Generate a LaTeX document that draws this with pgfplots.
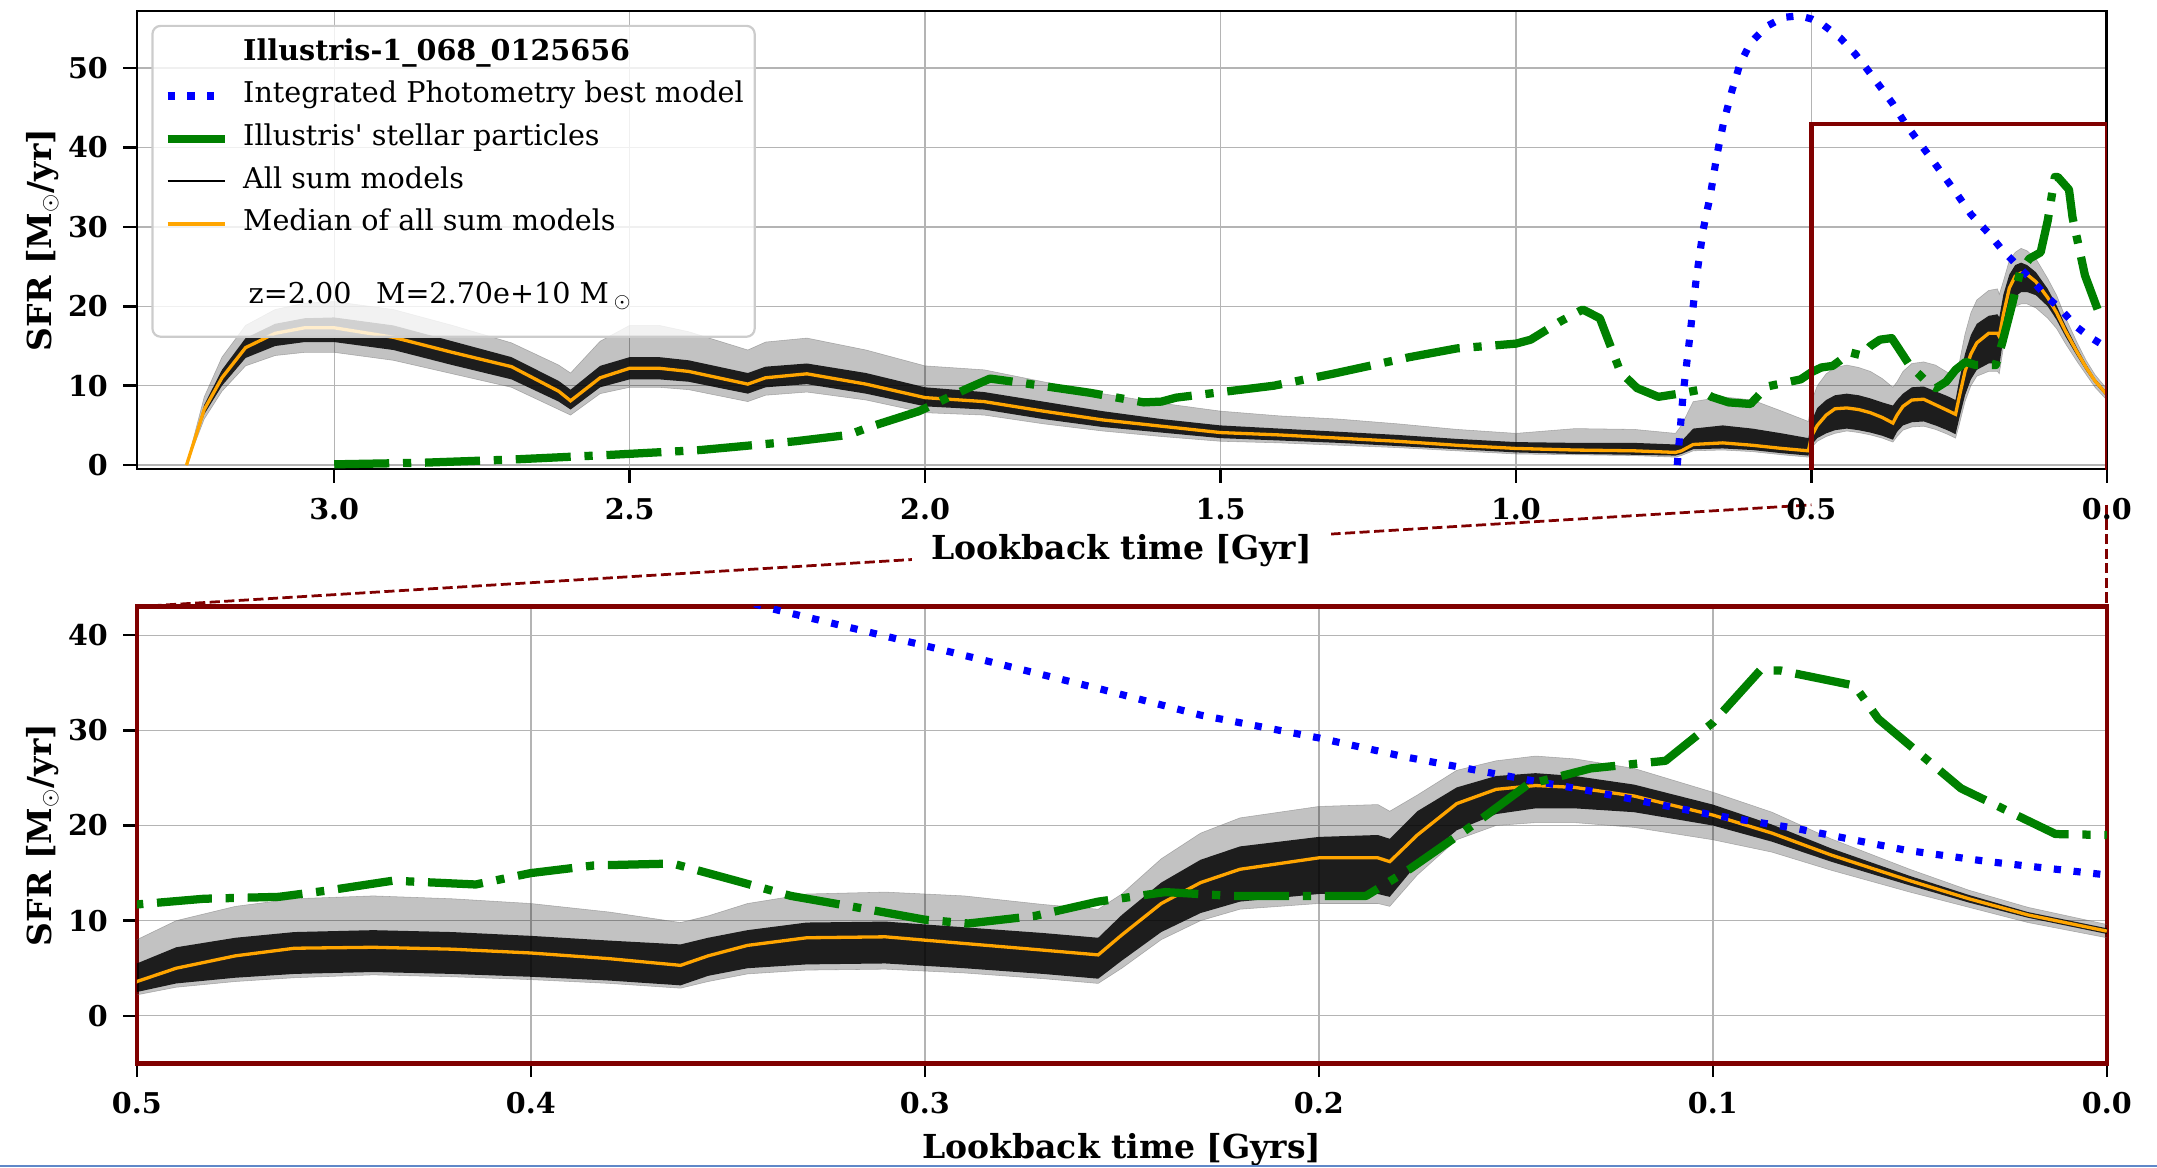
\documentclass[border=0pt]{standalone}
\usepackage{fontspec}
\setmainfont{DejaVu Serif}
\newfontfamily\rawserif{DejaVu Serif}[Ligatures=TeXOff]
\usepackage{pgfplots}
\pgfplotsset{compat=1.18}
\usepackage{pgfplotstable}
\usepgfplotslibrary{fillbetween}
\definecolor{maroonc}{RGB}{128,0,0}
\definecolor{mplgreen}{RGB}{0,128,0}
\definecolor{mplblue}{RGB}{0,0,255}
\definecolor{mplorange}{RGB}{255,165,0}
\definecolor{gridc}{RGB}{180,180,180}
\definecolor{legframe}{RGB}{204,204,204}
\definecolor{edgeblue}{RGB}{95,135,200}

\pgfplotstableread{
x      med   clo   chi   olo   ohi
3.25   0.0   0.0   0.0   0.0   0.0
3.22   7.0   6.4   7.6   5.8   8.6
3.19   11.0  10.0  12.0  9.3   13.6
3.15   14.8  13.5  16.0  12.5  17.6
3.10   16.6  15.0  17.8  13.8  19.6
3.05   17.3  15.5  18.5  14.2  20.4
3.00   17.3  15.5  18.6  14.2  20.6
2.90   16.1  14.5  17.6  13.2  19.6
2.80   14.2  12.6  15.6  11.5  17.6
2.70   12.4  10.8  13.6  9.8   15.4
2.62   9.3   8.0   10.6  7.0   12.6
2.60   8.1   7.0   9.5   6.3   11.6
2.55   11.0  9.8   12.5  9.0   15.6
2.50   12.2  10.8  13.6  9.8   17.6
2.45   12.2  10.8  13.6  9.8   17.6
2.40   11.8  10.5  13.2  9.5   16.8
2.30   10.2  9.0   11.6  8.0   14.5
2.27   11.0  9.8   12.4  8.8   15.5
2.20   11.5  10.2  12.8  9.2   16.0
2.10   10.2  9.0   11.6  8.2   14.5
2.00   8.5   7.4   9.8   6.6   12.5
1.90   8.0   7.0   9.2   6.3   12.0
1.80   6.8   5.8   8.0   5.2   10.5
1.70   5.7   4.8   6.8   4.3   9.0
1.60   4.9   4.1   5.8   3.6   7.8
1.50   4.1   3.4   5.0   3.0   6.8
1.40   3.8   3.1   4.6   2.8   6.2
1.30   3.4   2.8   4.2   2.5   5.8
1.20   3.0   2.4   3.8   2.2   5.2
1.10   2.5   2.0   3.3   1.8   4.5
1.00   2.1   1.6   2.9   1.4   4.0
0.90   1.9   1.4   2.8   1.3   4.6
0.80   1.8   1.3   2.8   1.2   4.5
0.73   1.6   1.2   2.6   1.0   4.0
0.72   1.8   1.4   3.0   1.2   5.0
0.70   2.6   2.0   4.6   1.8   8.0
0.65   2.8   2.1   5.0   1.9   8.6
0.60   2.5   1.9   4.6   1.7   8.2
0.55   2.1   1.5   4.0   1.3   6.8
0.505  1.8   1.2   3.4   1.0   5.5
0.50   3.6   2.5   5.5   2.2   8.0
0.49   5.0   3.4   7.2   3.0   10.0
0.475  6.3   4.0   8.2   3.6   11.5
0.46   7.1   4.4   8.8   4.0   12.3
0.44   7.2   4.6   9.0   4.3   12.6
0.42   7.0   4.4   8.8   4.1   12.3
0.40   6.6   4.1   8.4   3.8   11.8
0.38   6.0   3.7   7.9   3.4   10.9
0.362  5.3   3.2   7.5   2.9   9.8
0.355  6.3   4.2   8.2   3.6   10.5
0.345  7.4   5.0   9.0   4.4   11.8
0.33   8.2   5.4   9.8   4.8   12.8
0.31   8.3   5.5   9.9   4.9   13.0
0.29   7.6   5.0   9.3   4.5   12.6
0.27   6.9   4.4   8.7   3.9   11.7
0.256  6.4   3.9   8.2   3.4   11.2
0.25   8.5   5.8   10.6  5.0   12.8
0.24   11.8  8.8   14.0  8.0   16.5
0.23   14.0  10.8  16.4  10.0  19.2
0.22   15.4  12.0  17.8  11.2  20.8
0.20   16.6  12.8  18.8  11.8  22.0
0.185  16.6  12.8  19.0  11.8  22.2
0.182  16.2  12.5  18.6  11.5  21.5
0.175  19.0  16.0  21.5  14.8  23.2
0.165  22.3  19.5  24.0  18.5  25.8
0.155  23.8  21.2  25.2  20.0  26.8
0.145  24.2  21.8  25.5  20.3  27.3
0.135  24.0  21.8  25.2  20.3  27.0
0.12   23.1  21.4  24.3  19.8  26.0
0.10   21.1  20.0  22.2  18.5  23.5
0.085  19.2  18.3  20.1  17.2  21.4
0.07   16.9  16.2  17.6  15.3  18.6
0.05   14.2  13.7  14.7  13.0  15.4
0.035  12.3  11.9  12.7  11.4  13.2
0.02   10.6  10.3  10.9  9.8   11.4
0.00   8.9   8.6   9.2   8.2   9.6
}\bund

\pgfplotstableread{
x     y
0.727 0.0
0.717 9.0
0.706 16.0
0.695 23.4
0.683 29.7
0.671 34.0
0.660 39.0
0.649 43.0
0.635 47.0
0.621 50.5
0.603 53.2
0.575 55.3
0.547 56.4
0.520 56.6
0.500 56.2
0.479 55.4
0.451 53.8
0.426 51.8
0.405 49.8
0.384 47.7
0.363 45.6
0.339 42.8
0.300 38.9
0.256 34.4
0.230 31.6
0.200 29.2
0.178 27.2
0.147 24.8
0.132 23.7
0.100 21.1
0.079 19.7
0.051 17.4
0.030 16.2
0.000 14.8
}\blue

\pgfplotstableread{
x     y
3.00  0.1
2.85  0.3
2.70  0.7
2.53  1.3
2.38  1.9
2.22  3.0
2.13  3.8
2.09  4.9
2.01  6.8
1.93  9.6
1.89  10.9
1.84  10.4
1.72  9.1
1.63  7.9
1.60  8.0
1.575 8.5
1.41  10.0
1.31  11.5
1.18  13.6
1.10  14.7
1.00  15.3
0.975 15.8
0.925 18.1
0.887 19.6
0.858 18.5
0.823 11.7
0.795 9.7
0.759 8.6
0.724 9.0
0.688 9.5
0.669 8.6
0.640 7.9
0.603 7.7
0.575 9.9
0.518 10.8
0.500 11.7
0.483 12.3
0.464 12.5
0.451 13.2
0.435 14.2
0.414 13.8
0.400 15.0
0.384 15.8
0.364 16.0
0.348 14.2
0.334 12.6
0.316 11.3
0.300 10.1
0.289 9.7
0.272 10.5
0.256 12.0
0.239 13.0
0.222 12.6
0.188 12.6
0.177 15.4
0.160 20.3
0.147 24.3
0.131 26.0
0.112 26.8
0.100 30.8
0.088 36.3
0.083 36.3
0.064 34.7
0.058 31.2
0.037 23.9
0.013 19.1
0.000 19.0
}\green

\pgfplotsset{
  myax/.style={
    scale only axis, width=716pt,
    x dir=reverse, xmin=0,
    tick align=outside, tick pos=left,
    major tick length=5pt,
    tick style={black, line width=0.9pt},
    grid=major, grid style={gridc, line width=0.5pt},
    tick label style={font=\fontsize{10.4}{12}\selectfont\bfseries},
    label style={font=\fontsize{12}{14}\selectfont\bfseries},
    ylabel style={at={(axis description cs:-0.061,0.5)}, anchor=north},
    xlabel style={at={(axis description cs:0.5,0)}, anchor=base, yshift=-33pt},
    xticklabel style={yshift=-2pt},
    yticklabel style={xshift=-2pt},
  },
}

\begin{document}
\begin{tikzpicture}
% zoom connectors (drawn first so the axis label covers them)
\draw[maroonc, line width=1pt, dash pattern=on 3.7pt off 1.6pt] (49.75pt,-220.5pt) -- (658.4pt,-183.5pt);
\draw[maroonc, line width=1pt, dash pattern=on 3.7pt off 1.6pt] (765.75pt,-183.5pt) -- (765.75pt,-220.5pt);

\begin{axis}[myax,
  at={(49.75pt,-4pt)}, anchor=north west, height=166.5pt,
  xmax=3.334, ymin=-0.5, ymax=57.2,
  xtick={0,0.5,1,1.5,2,2.5,3},
  xticklabels={0.0,0.5,1.0,1.5,2.0,2.5,3.0},
  ytick={0,10,20,30,40,50},
  yticklabels={0,10,20,30,40,50},
  xlabel={Lookback time [Gyr]},
  ylabel={SFR [M$_{\odot}$/yr]},
  xlabel style={fill=white, inner xsep=7pt, inner ysep=2pt},
  axis line style={black, line width=1pt},
  legend cell align=left,
  legend image code/.code={\draw[#1] (0pt,0pt) -- (21pt,0pt);},
  legend style={
    at={(axis description cs:0,1)}, anchor=north west, xshift=5.25pt, yshift=-5pt,
    draw=legframe, line width=0.8pt, rounded corners=3pt,
    fill=white, fill opacity=0.8, text opacity=1,
    inner xsep=4pt, inner ysep=5pt, row sep=5.5pt,
    font=\fontsize{10.4}{12}\selectfont,
    nodes={inner sep=0pt, text height=7.5pt, text depth=2.5pt},
    /tikz/every odd column/.append style={column sep=5pt},
  },
]
\addlegendimage{empty legend}
\addlegendentry{\textbf{Illustris-1\_068\_0125656}}
\addlegendimage{mplblue, line width=2.6pt, dash pattern=on 2.6pt off 4.6pt}
\addlegendentry{Integrated Photometry best model}
\addlegendimage{mplgreen, line width=3pt}
\addlegendentry{Illustris{\rawserif'} stellar particles}
\addlegendimage{black, line width=0.8pt}
\addlegendentry{All sum models}
\addlegendimage{mplorange, line width=1.2pt}
\addlegendentry{Median of all sum models}
\addlegendimage{empty legend}
\addlegendentry{}
\addlegendimage{empty legend}
\addlegendentry{\hspace{2pt}\raisebox{4.5pt}{z=2.00\hspace{9pt}M=2.70e+10 M\,$_{\odot}$}}

\addplot[name path=ohiT, black!55, line width=0.2pt, opacity=0.5, forget plot] table[x=x,y=ohi]{\bund};
\addplot[name path=oloT, black!55, line width=0.2pt, opacity=0.5, forget plot] table[x=x,y=olo]{\bund};
\addplot[fill=black, fill opacity=0.24, draw=none, forget plot] fill between[of=ohiT and oloT];
\addplot[name path=chiT, draw=none, forget plot] table[x=x,y=chi]{\bund};
\addplot[name path=cloT, draw=none, forget plot] table[x=x,y=clo]{\bund};
\addplot[fill=black, fill opacity=0.85, draw=none, forget plot] fill between[of=chiT and cloT];
\addplot[mplorange, line width=1.2pt, forget plot] table[x=x,y=med]{\bund};
\addplot[mplblue, line width=2.6pt, dash pattern=on 2.6pt off 4.6pt, forget plot] table[x=x,y=y]{\blue};
\addplot[mplgreen, line width=3pt, line join=round, dash pattern=on 20pt off 5pt on 3pt off 5pt, forget plot] table[x=x,y=y]{\green};
\addplot[maroonc, line width=1.6pt, forget plot] coordinates {(0.5,-5) (0.5,43) (0,43) (0,-5)};
\end{axis}

\begin{axis}[myax,
  at={(49.75pt,-220.5pt)}, anchor=north west, height=166pt,
  xmax=0.5, ymin=-5, ymax=43,
  xtick={0,0.1,0.2,0.3,0.4,0.5},
  xticklabels={0.0,0.1,0.2,0.3,0.4,0.5},
  ytick={0,10,20,30,40},
  yticklabels={0,10,20,30,40},
  xlabel={Lookback time [Gyrs]},
  xlabel style={yshift=-1.5pt},
  ylabel={SFR [M$_{\odot}$/yr]},
  axis line style={maroonc, line width=1.6pt},
]
\addplot[name path=ohiB, black!55, line width=0.2pt, opacity=0.5, forget plot] table[x=x,y=ohi]{\bund};
\addplot[name path=oloB, black!55, line width=0.2pt, opacity=0.5, forget plot] table[x=x,y=olo]{\bund};
\addplot[fill=black, fill opacity=0.24, draw=none, forget plot] fill between[of=ohiB and oloB];
\addplot[name path=chiB, draw=none, forget plot] table[x=x,y=chi]{\bund};
\addplot[name path=cloB, draw=none, forget plot] table[x=x,y=clo]{\bund};
\addplot[fill=black, fill opacity=0.85, draw=none, forget plot] fill between[of=chiB and cloB];
\addplot[mplorange, line width=1.2pt, forget plot] table[x=x,y=med]{\bund};
\addplot[mplblue, line width=2.6pt, dash pattern=on 2.6pt off 4.6pt, forget plot] table[x=x,y=y]{\blue};
\addplot[mplgreen, line width=3pt, line join=round, dash pattern=on 20pt off 5pt on 3pt off 5pt, forget plot] table[x=x,y=y]{\green};
\end{axis}

\draw[edgeblue, line width=0.8pt] (0pt,-423.9pt) -- (784pt,-423.9pt);
\pgfresetboundingbox
\path (0pt,0pt) rectangle (784pt,-424.5pt);
\end{tikzpicture}
\end{document}
